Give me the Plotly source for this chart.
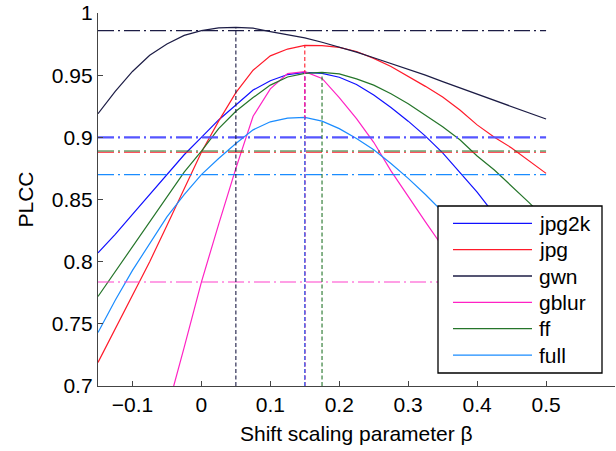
import plotly.graph_objects as go

# Shift scaling parameter beta (sample grid)
beta = [-0.15, -0.125, -0.1, -0.075, -0.05, -0.025, 0.0, 0.025, 0.05, 0.075,
        0.1, 0.125, 0.15, 0.175, 0.2, 0.225, 0.25, 0.275, 0.3, 0.325,
        0.35, 0.375, 0.4, 0.425, 0.45, 0.475, 0.5]

# PLCC per distortion type
plcc_jpg2k = [0.807, 0.822, 0.838, 0.854, 0.870, 0.886, 0.900, 0.914, 0.926, 0.938,
              0.9455, 0.9505, 0.9523, 0.9515, 0.9483, 0.9425, 0.934, 0.924, 0.913, 0.901,
              0.8875, 0.872, 0.856, 0.838, 0.818, 0.796, 0.773]
plcc_jpg = [0.719, 0.746, 0.773, 0.800, 0.829, 0.858, 0.888, 0.913, 0.936, 0.954,
            0.9655, 0.971, 0.9740, 0.9738, 0.9724, 0.969, 0.9635, 0.957, 0.9493, 0.941,
            0.9325, 0.922, 0.910, 0.900, 0.8915, 0.881, 0.871]
plcc_gwn = [0.919, 0.937, 0.953, 0.966, 0.975, 0.982, 0.9858, 0.988, 0.9885, 0.9878,
            0.985, 0.9825, 0.980, 0.9765, 0.9728, 0.9685, 0.964, 0.9595, 0.955, 0.950,
            0.9448, 0.9397, 0.9346, 0.9295, 0.9245, 0.9196, 0.9147]
plcc_gblur = [0.43, 0.50, 0.565, 0.625, 0.680, 0.731, 0.7836, 0.830, 0.875, 0.917,
              0.939, 0.9512, 0.9528, 0.9474, 0.932, 0.915, 0.896, 0.873, 0.852, 0.832,
              0.812, 0.793, 0.775, 0.758, 0.742, 0.727, 0.713]
plcc_ff = [0.772, 0.792, 0.812, 0.832, 0.852, 0.872, 0.889, 0.907, 0.921, 0.932,
           0.942, 0.9485, 0.9515, 0.9523, 0.951, 0.947, 0.942, 0.935, 0.927, 0.918,
           0.9085, 0.898, 0.885, 0.8737, 0.861, 0.8477, 0.834]
plcc_full = [0.743, 0.769, 0.793, 0.815, 0.836, 0.854, 0.870, 0.883, 0.895, 0.906,
             0.9125, 0.9155, 0.916, 0.913, 0.907, 0.899, 0.890, 0.879, 0.867, 0.854,
             0.840, 0.823, 0.805, 0.785, 0.764, 0.742, 0.719]

series_names = ["jpg2k", "jpg", "gwn", "gblur", "ff", "full"]
series_values = [plcc_jpg2k, plcc_jpg, plcc_gwn, plcc_gblur, plcc_ff, plcc_full]
series_colors = ["#1010ff", "#ff1a2a", "#1c1c45", "#ff22c4", "#25752a", "#1a8cff"]
# dash-dot reference levels: colour and width per series
level_colors = ["#5555ff", "#ff1a2a", "#1c1c45", "#ff40cc", "#25752a", "#1a8cff"]
level_widths = [2.2, 1.1, 1.3, 1.1, 1.1, 1.1]

x_tick_vals = [-0.1, 0, 0.1, 0.2, 0.3, 0.4, 0.5]
x_tick_text = ["\u22120.1", "0", "0.1", "0.2", "0.3", "0.4", "0.5"]
y_tick_vals = [0.7, 0.75, 0.8, 0.85, 0.9, 0.95, 1.0]
y_tick_text = ["0.7", "0.75", "0.8", "0.85", "0.9", "0.95", "1"]

FONT = "Liberation Sans, Arial, Helvetica, sans-serif"
W, H = 616, 451
L, R, T, B = 98, 1, 13, 65
PW, PH = W - L - R, H - T - B


def px_x(px):
    return (px - L) / PW


def px_y(py):
    return (H - B - py) / PH


fig = go.Figure()

# curves
for name, vals, col in zip(series_names, series_values, series_colors):
    fig.add_trace(go.Scatter(x=beta, y=vals, mode="lines", name=name,
                             line=dict(color=col, width=1.2), showlegend=False))

# reference level at beta = 0 (dash-dot) and location of the optimum (dashed)
i0 = beta.index(0.0)
for vals, col, lw in zip(series_values, level_colors, level_widths):
    base = vals[i0]
    fig.add_trace(go.Scatter(x=[beta[0], beta[-1]], y=[base, base], mode="lines",
                             line=dict(color=col, width=lw, dash="16px,4px,2px,4px"),
                             showlegend=False, hoverinfo="skip"))
for vals, col in zip(series_values, series_colors):
    k = max(range(len(vals)), key=lambda j: vals[j])
    fig.add_trace(go.Scatter(x=[beta[k], beta[k]], y=[0.7, vals[k]], mode="lines",
                             line=dict(color=col, width=1.1, dash="4px,2.5px"),
                             showlegend=False, hoverinfo="skip"))

# legend box
shapes = [dict(type="rect", xref="paper", yref="paper",
               x0=px_x(438), x1=px_x(602), y0=px_y(373), y1=px_y(206),
               line=dict(color="black", width=1.3), fillcolor="white", layer="above")]
annotations = []
for i, (name, col) in enumerate(zip(series_names, series_colors)):
    yc = 223.3 + i * 26.35
    shapes.append(dict(type="line", xref="paper", yref="paper",
                       x0=px_x(453), x1=px_x(532), y0=px_y(yc), y1=px_y(yc),
                       line=dict(color=col, width=1.3), layer="above"))
    annotations.append(dict(xref="paper", yref="paper", x=px_x(537), y=px_y(yc),
                            xanchor="left", yanchor="middle", text=name, showarrow=False,
                            font=dict(family=FONT, size=21, color="black")))

# axis titles
annotations.append(dict(xref="paper", yref="paper", x=0.5, y=0, yshift=-47,
                        xanchor="center", yanchor="middle", showarrow=False,
                        text="Shift scaling parameter \u03b2",
                        font=dict(family=FONT, size=21, color="black")))
annotations.append(dict(xref="paper", yref="paper", x=0, xshift=-73, y=0.5,
                        xanchor="center", yanchor="middle", showarrow=False,
                        text="PLCC", textangle=-90,
                        font=dict(family=FONT, size=21, color="black")))

fig.update_layout(
    width=W, height=H,
    margin=dict(l=L, r=R, t=T, b=B, pad=0),
    paper_bgcolor="white", plot_bgcolor="white",
    font=dict(family=FONT, size=21, color="black"),
    shapes=shapes, annotations=annotations,
    showlegend=False,
)
fig.update_xaxes(range=[-0.15, 0.6], tickvals=x_tick_vals, ticktext=x_tick_text,
                 showgrid=False, zeroline=False, showline=True, linecolor="#444444",
                 linewidth=1.3, ticks="inside", ticklen=5, tickwidth=1.3,
                 tickcolor="#444444", mirror=False)
fig.update_yaxes(range=[0.7, 1.0], tickvals=y_tick_vals, ticktext=y_tick_text,
                 showgrid=False, zeroline=False, showline=True, linecolor="#444444",
                 linewidth=1.3, ticks="inside", ticklen=5, tickwidth=1.3,
                 tickcolor="#444444", mirror=False)

fig.write_html("out.html")
